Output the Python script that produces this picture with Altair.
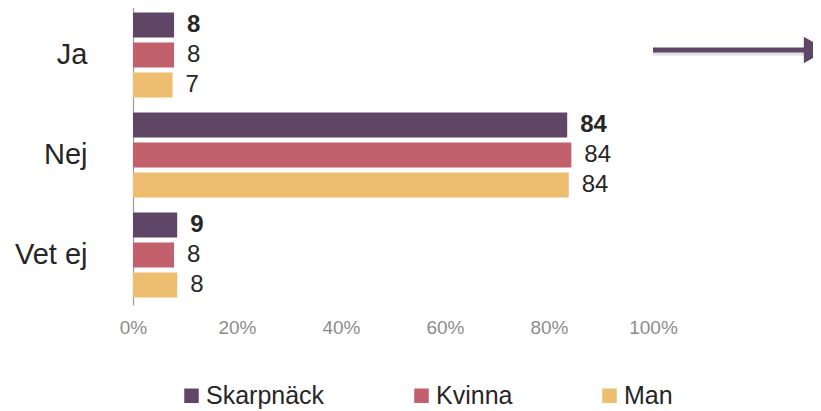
import altair as alt
import pandas as pd

categories = ["Ja", "Nej", "Vet ej"]
series = ["Skarpnäck", "Kvinna", "Man"]
skarpnack = [7.9, 83.5, 8.5]
kvinna = [7.9, 84.3, 7.9]
man = [7.6, 83.8, 8.5]
label_skarpnack = ["8", "84", "9"]
label_kvinna = ["8", "84", "8"]
label_man = ["7", "84", "8"]
colors = ["#5f4566", "#c2616c", "#edbd70"]
x_ticks = [0, 20, 40, 60, 80, 100]
arrow_line = [100.0, 130.0]
arrow_head = [131.2]

rows = []
for s, vals, labs in zip(series, [skarpnack, kvinna, man], [label_skarpnack, label_kvinna, label_man]):
    for c, v, l in zip(categories, vals, labs):
        rows.append({"cat": c, "series": s, "value": v, "label": l})
df = pd.DataFrame(rows)

FONT = "Liberation Sans"

y_enc = alt.Y("cat:N", sort=categories,
              scale=alt.Scale(paddingInner=0, paddingOuter=0),
              axis=alt.Axis(title=None, labelFontSize=29, labelPadding=46, ticks=False,
                            domainColor="#9a9a9a", domainWidth=1.2, labelColor="#262626",
                            labelFont=FONT))
yoff_enc = alt.YOffset("series:N", sort=series,
                       scale=alt.Scale(paddingInner=1/6, paddingOuter=0.25))
x_enc = alt.X("value:Q", scale=alt.Scale(domain=[0, 100], nice=False),
              axis=alt.Axis(values=x_ticks, labelExpr="datum.value + '%'", grid=False,
                            domain=False, ticks=False, labelFontSize=19, labelFlush=False,
                            labelColor="#8c8c8c", labelPadding=13, title=None,
                            labelFont=FONT))

bars = alt.Chart(df).mark_bar().encode(
    y=y_enc, yOffset=yoff_enc, x=x_enc,
    color=alt.Color("series:N", sort=series,
                    scale=alt.Scale(domain=series, range=colors),
                    legend=alt.Legend(orient="none", legendX=46, legendY=378,
                                      direction="horizontal", title=None,
                                      symbolType="square", symbolSize=210,
                                      labelFontSize=25, columnPadding=84,
                                      symbolStrokeWidth=0, labelOffset=2,
                                      labelFont=FONT, labelColor="#262626",
                                      symbolOpacity=1))
)

text_bold = alt.Chart(df).transform_filter(alt.datum.series == "Skarpnäck").mark_text(
    align="left", baseline="middle", dx=13, fontSize=24, fontWeight="bold",
    font=FONT, color="#262626"
).encode(y=alt.Y("cat:N", sort=categories), yOffset=alt.YOffset("series:N", sort=series),
         x="value:Q", text="label:N")

text_norm = alt.Chart(df).transform_filter(alt.datum.series != "Skarpnäck").mark_text(
    align="left", baseline="middle", dx=13, fontSize=24,
    font=FONT, color="#262626"
).encode(y=alt.Y("cat:N", sort=categories), yOffset=alt.YOffset("series:N", sort=series),
         x="value:Q", text="label:N")

arrow_df = pd.DataFrame({"x": [arrow_line[0]], "x2": [arrow_line[1]], "h": arrow_head})

arrow_shadow = alt.Chart(arrow_df).mark_rule(strokeWidth=5, color="#b8b8b8", opacity=0.45).encode(
    x="x:Q", x2="x2:Q", y=alt.value(48))
arrow_rule = alt.Chart(arrow_df).mark_rule(strokeWidth=5, color="#5f4566").encode(
    x="x:Q", x2="x2:Q", y=alt.value(45))
arrow_tip = alt.Chart(arrow_df).mark_point(shape="triangle-right", filled=True, size=700,
                                           color="#5f4566", opacity=1, strokeWidth=0).encode(
    x="h:Q", y=alt.value(45))

chart = alt.layer(bars, text_bold, text_norm, arrow_shadow, arrow_rule, arrow_tip).properties(
    width=520, height=300,
    autosize=alt.AutoSizeParams(type="none"),
    padding={"left": 125, "top": -3, "right": 160, "bottom": 110},
).configure(font=FONT).configure_view(stroke=None)

chart.save("out.html", embed_options={"renderer": "svg", "actions": False})
